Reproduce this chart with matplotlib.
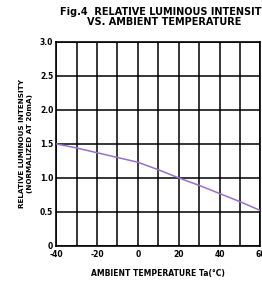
import matplotlib
matplotlib.use("Agg")
import matplotlib.pyplot as plt

# curve
temp_c = [-40, -30, -20, -10, 0, 10, 20, 30, 40, 50, 60]
rel_lum = [1.50, 1.44, 1.37, 1.30, 1.23, 1.12, 1.00, 0.89, 0.77, 0.65, 0.52]

x_ticks = [-40, -20, 0, 20, 40, 60]
y_ticks = [0, 0.5, 1.0, 1.5, 2.0, 2.5, 3.0]
y_labels = ["0", "0.5", "1.0", "1.5", "2.0", "2.5", "3.0"]


def main():
    plt.rcParams["font.family"] = "DejaVu Sans"
    plt.rcParams["font.weight"] = "bold"
    plt.rcParams["axes.labelweight"] = "bold"
    fig = plt.figure(figsize=(2.62, 2.81), dpi=100)
    ax = fig.add_axes([0.214, 0.125, 0.78, 0.726])

    ax.plot(temp_c, rel_lum, color="#9a6fc8", lw=1.1, zorder=3)

    ax.set_xlim(-40, 60)
    ax.set_ylim(0, 3.0)
    ax.set_xticks(x_ticks, labels=[str(t) for t in x_ticks])
    ax.set_xticks(range(-30, 60, 20), minor=True)
    ax.set_yticks(y_ticks, labels=y_labels)
    ax.grid(True, which="both", color="black", lw=1.1)
    ax.tick_params(which="both", length=0, labelsize=5.5, pad=2)
    ax.tick_params(axis="x", pad=3)
    for s in ax.spines.values():
        s.set_linewidth(1.2)

    ax.set_xlabel("AMBIENT TEMPERATURE Ta(°C)", fontsize=5.5, labelpad=7)
    ax.set_ylabel("RELATIVE LUMINOUS INTENSITY\n(NORMALIZED AT 20mA)",
                  fontsize=5.2, labelpad=5, linespacing=1.3)
    fig.text(0.625, 0.94, "Fig.4  RELATIVE LUMINOUS INTENSITY\nVS. AMBIENT TEMPERATURE",
             ha="center", va="center", fontsize=7.0, linespacing=1.05)

    fig.savefig("out.png", dpi=100)


if __name__ == "__main__":
    main()
